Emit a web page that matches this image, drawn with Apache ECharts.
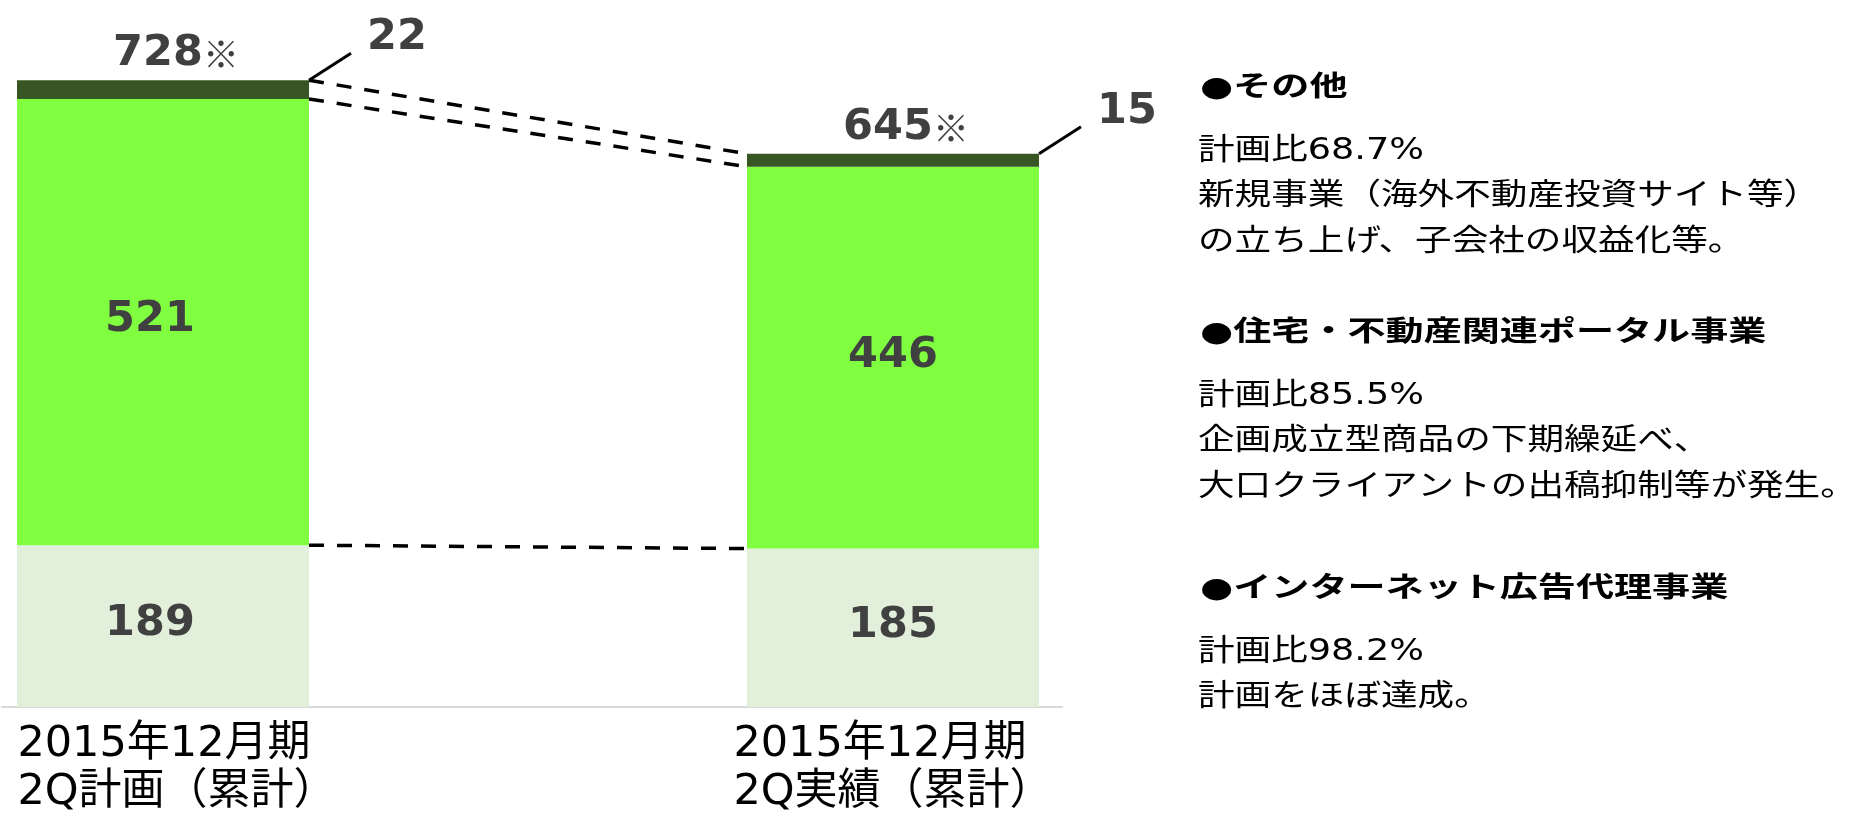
<!DOCTYPE html>
<html>
<head>
<meta charset="utf-8">
<title>2015年12月期 2Q 計画・実績</title>
<script src="https://cdn.jsdelivr.net/npm/echarts@6/dist/echarts.min.js"></script>
<style>
  html, body { margin: 0; padding: 0; background: #fff; }
  #main { width: 1850px; height: 815px; }
</style>
</head>
<body>
<div id="main"></div>
<script>
// 2Q累計 売上 (計画 / 実績)
var categories = ['2015年12月期\n2Q計画（累計）', '2015年12月期\n2Q実績（累計）'];
var internetAd = [189, 185];   // インターネット広告代理事業
var portal = [521, 446];       // 住宅・不動産関連ポータル事業
var others = [22, 15];         // その他
var totalLabels = ['728', '645'];

var noteHeads = ['●その他', '●住宅・不動産関連ポータル事業', '●インターネット広告代理事業'];
var noteBodies = [
  ['計画比68.7%', '新規事業（海外不動産投資サイト等）', 'の立ち上げ、子会社の収益化等。'],
  ['計画比85.5%', '企画成立型商品の下期繰延べ、', '大口クライアントの出稿抑制等が発生。'],
  ['計画比98.2%', '計画をほぼ達成。']
];

var FONT = '"DejaVu Sans", "Noto Sans CJK JP"';
var barWidth = 292;
var barHalf = barWidth / 2;
var labelShiftX = [-13, 0];

var chart = echarts.init(document.getElementById('main'));

function segData(arr) {
  return arr.map(function (v, i) {
    return { value: v, label: { offset: [labelShiftX[i], -2] } };
  });
}

var segLabel = {
  show: true,
  position: 'inside',
  fontFamily: '"DejaVu Sans"',
  fontWeight: 'bold',
  fontSize: 43,
  color: '#404040'
};

// 右側のコメント
var graphics = [];
var headY = [89, 334, 590];
noteHeads.forEach(function (h, k) {
  graphics.push({
    type: 'text', x: 1200, y: headY[k], scaleX: 1.36,
    style: { text: h, font: 'bold 28px ' + FONT, fill: '#000', align: 'left', verticalAlign: 'middle' }
  });
  noteBodies[k].forEach(function (line, j) {
    graphics.push({
      type: 'text', x: 1198, y: headY[k] + 62 + j * 45.5, scaleX: 1.22,
      style: { text: line, font: '30px ' + FONT, fill: '#000', align: 'left', verticalAlign: 'middle' }
    });
  });
});

function renderNotes(params, api) {
  var i = api.value(0);
  var c1 = internetAd[i], c2 = c1 + portal[i], c3 = c2 + others[i];
  var top = api.coord([i, c3]);
  var kids = [];

  // 合計ラベル
  kids.push({
    type: 'text', x: top[0] + 13, y: top[1] - 26,
    style: {
      text: '{n|' + totalLabels[i] + '}{m|※}',
      align: 'center', verticalAlign: 'middle',
      rich: {
        n: { fontFamily: '"DejaVu Sans"', fontWeight: 'bold', fontSize: 43, fill: '#404040' },
        m: { fontFamily: '"Noto Sans CJK JP"', fontSize: 36, fill: '#404040' }
      }
    }
  });

  // その他の値と引き出し線
  var cx = top[0] + barHalf, cy = top[1];
  kids.push({
    type: 'line',
    shape: { x1: cx, y1: cy, x2: cx + 42, y2: cy - 27 },
    style: { stroke: '#000', lineWidth: 3 }
  });
  kids.push({
    type: 'text', x: cx + 88, y: cy - 42,
    style: { text: String(others[i]), font: 'bold 43px "DejaVu Sans"', fill: '#404040', align: 'center', verticalAlign: 'middle' }
  });

  // 区分線（点線）
  if (i < categories.length - 1) {
    var n1 = internetAd[i + 1], n2 = n1 + portal[i + 1], n3 = n2 + others[i + 1];
    [[c1, n1], [c2, n2], [c3, n3]].forEach(function (pair) {
      var a = api.coord([i, pair[0]]);
      var b = api.coord([i + 1, pair[1]]);
      kids.push({
        type: 'line',
        shape: { x1: a[0] + barHalf, y1: a[1], x2: b[0] - barHalf, y2: b[1] },
        style: { stroke: '#000', lineWidth: 3.5, lineDash: [15, 13] }
      });
    });
  }
  return { type: 'group', children: kids };
}

var option = {
  backgroundColor: '#fff',
  animation: false,
  grid: [
    { left: -202, width: 1460, top: 22, bottom: 108, outerBoundsMode: 'none', containLabel: false },
    { left: 2, right: 788, top: 700, bottom: 108, outerBoundsMode: 'none', containLabel: false }
  ],
  xAxis: [
    {
      type: 'category', gridIndex: 0, data: categories,
      axisLine: { show: false }, axisTick: { show: false },
      axisLabel: {
        interval: 0, margin: 14,
        formatter: function (v, idx) {
          return v.split('\n').map(function (s) { return '{c' + idx + '|' + s + '}'; }).join('\n');
        },
        rich: {
          c0: { fontFamily: FONT, fontSize: 43, lineHeight: 48, color: '#000', align: 'left', padding: [0, 0, 0, 28] },
          c1: { fontFamily: FONT, fontSize: 43, lineHeight: 48, color: '#000', align: 'left' }
        }
      }
    },
    {
      type: 'category', gridIndex: 1, data: [''],
      axisLine: { show: true, lineStyle: { color: '#d9d9d9', width: 2 } },
      axisTick: { show: false }, axisLabel: { show: false }
    }
  ],
  yAxis: [
    { type: 'value', gridIndex: 0, min: 0, max: 800, show: false },
    { type: 'value', gridIndex: 1, show: false }
  ],
  series: [
    {
      name: 'インターネット広告代理事業', type: 'bar', stack: 'total', barWidth: barWidth,
      itemStyle: { color: '#e2efda' }, label: segLabel, data: segData(internetAd)
    },
    {
      name: '住宅・不動産関連ポータル事業', type: 'bar', stack: 'total', barWidth: barWidth,
      itemStyle: { color: '#80ff40' }, label: segLabel, data: segData(portal)
    },
    {
      name: 'その他', type: 'bar', stack: 'total', barWidth: barWidth,
      itemStyle: { color: '#375623' }, data: others
    },
    {
      type: 'custom', renderItem: renderNotes, z: 10, silent: true,
      data: categories.map(function (c, i) { return [i, internetAd[i] + portal[i] + others[i]]; })
    }
  ],
  graphic: graphics
};
chart.setOption(option);
</script>
</body>
</html>
